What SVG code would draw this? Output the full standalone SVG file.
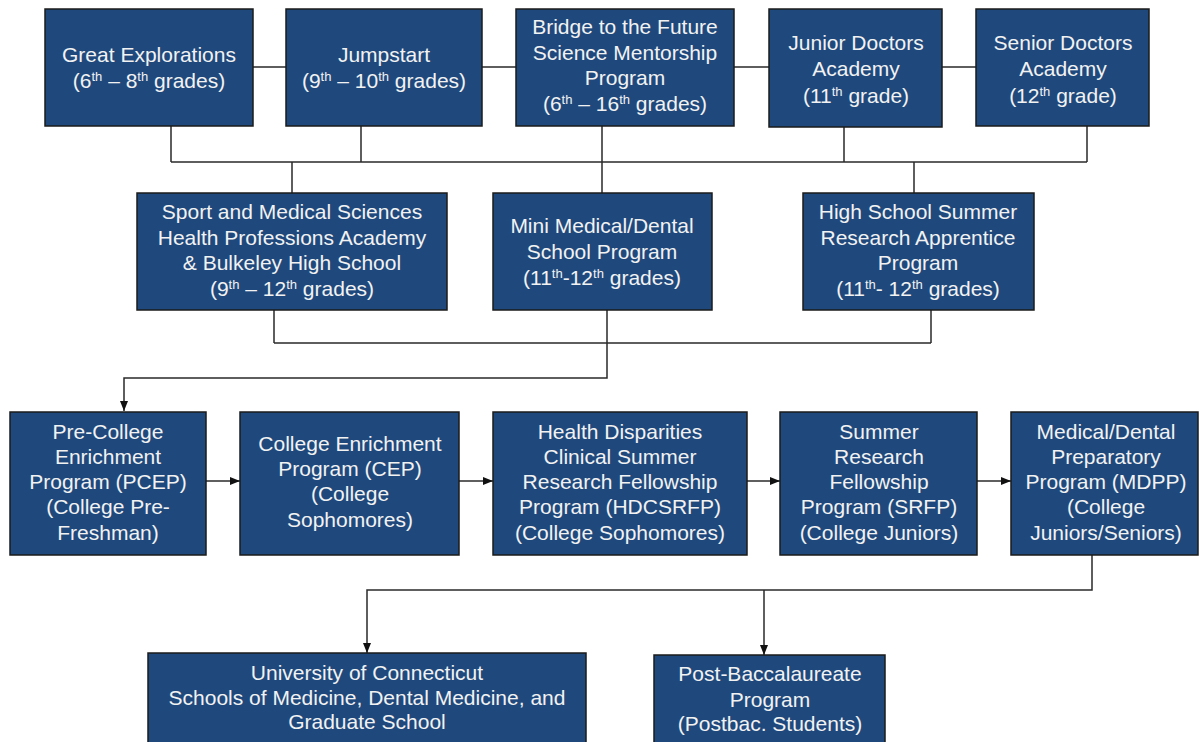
<svg xmlns="http://www.w3.org/2000/svg" width="1199" height="742" viewBox="0 0 1199 742">
<defs>
<style>
.box{fill:#1f497d;stroke:#1b1b1b;stroke-width:1.5}
.t{font-family:"Liberation Sans",Arial,sans-serif;font-size:21px;fill:#f2f2f2;text-anchor:middle}
.t4{font-size:21px}
.c{fill:none;stroke:#2a2a2a;stroke-width:1.5}
.s{font-size:13px}
</style>
<marker id="ah" viewBox="0 0 10 8" markerWidth="10" markerHeight="8" refX="10" refY="4" orient="auto" markerUnits="userSpaceOnUse">
<path d="M0,0 L10,4 L0,8 z" fill="#111"/>
</marker>
</defs>
<rect width="1199" height="742" fill="#fff"/>
<g id="connectors">
<path class="c" d="M253 67 H286 M482 67 H516 M734 67 H769 M942 67 H976"/>
<path class="c" d="M171 126 V162 M361 126 V162 M844 126 V162 M1087 126 V162 M171 162 H1087"/>
<path class="c" d="M292 162 V193 M602 126 V193 M914 162 V193"/>
<path class="c" d="M274 310 V343 M607 310 V343 M931 310 V343 M274 343 H931"/>
<path class="c" d="M607 343 V378 H124 V411" marker-end="url(#ah)"/>
<path class="c" d="M206 481 H240" marker-end="url(#ah)"/>
<path class="c" d="M459 481 H493" marker-end="url(#ah)"/>
<path class="c" d="M747 481 H780" marker-end="url(#ah)"/>
<path class="c" d="M977 481 H1011" marker-end="url(#ah)"/>
<path class="c" d="M1092 555 V590 H367 V653" marker-end="url(#ah)"/>
<path class="c" d="M764 590 V655" marker-end="url(#ah)"/>
</g>
<g id="great-explorations">
<rect class="box" x="45" y="9" width="208" height="117"/>
<text class="t" x="149" y="62">Great Explorations</text>
<text class="t" x="149" y="88">(6<tspan class="s" dy="-7">th</tspan><tspan dy="7"> – 8</tspan><tspan class="s" dy="-7">th</tspan><tspan dy="7"> grades)</tspan></text>
</g>
<g id="jumpstart">
<rect class="box" x="286" y="9" width="196" height="117"/>
<text class="t" x="384" y="62">Jumpstart</text>
<text class="t" x="384" y="88">(9<tspan class="s" dy="-7">th</tspan><tspan dy="7"> – 10</tspan><tspan class="s" dy="-7">th</tspan><tspan dy="7"> grades)</tspan></text>
</g>
<g id="bridge">
<rect class="box" x="516" y="9" width="218" height="117"/>
<text class="t" x="625" y="34">Bridge to the Future</text>
<text class="t" x="625" y="60">Science Mentorship</text>
<text class="t" x="625" y="85">Program</text>
<text class="t" x="625" y="111">(6<tspan class="s" dy="-7">th</tspan><tspan dy="7"> – 16</tspan><tspan class="s" dy="-7">th</tspan><tspan dy="7"> grades)</tspan></text>
</g>
<g id="junior-doctors">
<rect class="box" x="769" y="9" width="173" height="118"/>
<text class="t" x="856" y="50">Junior Doctors</text>
<text class="t" x="856" y="76">Academy</text>
<text class="t" x="856" y="103">(11<tspan class="s" dy="-7">th</tspan><tspan dy="7"> grade)</tspan></text>
</g>
<g id="senior-doctors">
<rect class="box" x="976" y="9" width="173" height="117"/>
<text class="t" x="1063" y="50">Senior Doctors</text>
<text class="t" x="1063" y="76">Academy</text>
<text class="t" x="1063" y="103">(12<tspan class="s" dy="-7">th</tspan><tspan dy="7"> grade)</tspan></text>
</g>
<g id="sport-medical">
<rect class="box" x="137" y="193" width="310" height="117"/>
<text class="t" x="292" y="219">Sport and Medical Sciences</text>
<text class="t" x="292" y="245">Health Professions Academy</text>
<text class="t" x="292" y="270">&amp; Bulkeley High School</text>
<text class="t" x="292" y="296">(9<tspan class="s" dy="-7">th</tspan><tspan dy="7"> – 12</tspan><tspan class="s" dy="-7">th</tspan><tspan dy="7"> grades)</tspan></text>
</g>
<g id="mini-medical">
<rect class="box" x="493" y="193" width="219" height="117"/>
<text class="t" x="602" y="233">Mini Medical/Dental</text>
<text class="t" x="602" y="259">School Program</text>
<text class="t" x="602" y="285">(11<tspan class="s" dy="-7">th</tspan><tspan dy="7">-12</tspan><tspan class="s" dy="-7">th</tspan><tspan dy="7"> grades)</tspan></text>
</g>
<g id="high-school-summer">
<rect class="box" x="803" y="193" width="231" height="117"/>
<text class="t" x="918" y="219">High School Summer</text>
<text class="t" x="918" y="245">Research Apprentice</text>
<text class="t" x="918" y="270">Program</text>
<text class="t" x="918" y="296">(11<tspan class="s" dy="-7">th</tspan><tspan dy="7">- 12</tspan><tspan class="s" dy="-7">th</tspan><tspan dy="7"> grades)</tspan></text>
</g>
<g id="pcep">
<rect class="box" x="10" y="412" width="196" height="143"/>
<text class="t" x="108" y="439">Pre-College</text>
<text class="t" x="108" y="464">Enrichment</text>
<text class="t" x="108" y="489">Program (PCEP)</text>
<text class="t" x="108" y="514">(College Pre-</text>
<text class="t" x="108" y="540">Freshman)</text>
</g>
<g id="cep">
<rect class="box" x="240" y="412" width="219" height="143"/>
<text class="t" x="350" y="451">College Enrichment</text>
<text class="t" x="350" y="476">Program (CEP)</text>
<text class="t" x="350" y="501">(College</text>
<text class="t" x="350" y="527">Sophomores)</text>
</g>
<g id="hdcsrfp">
<rect class="box" x="493" y="412" width="254" height="143"/>
<text class="t" x="620" y="439">Health Disparities</text>
<text class="t" x="620" y="464">Clinical Summer</text>
<text class="t" x="620" y="489">Research Fellowship</text>
<text class="t" x="620" y="514">Program (HDCSRFP)</text>
<text class="t" x="620" y="540">(College Sophomores)</text>
</g>
<g id="srfp">
<rect class="box" x="780" y="412" width="197" height="143"/>
<text class="t" x="879" y="439">Summer</text>
<text class="t" x="879" y="464">Research</text>
<text class="t" x="879" y="489">Fellowship</text>
<text class="t" x="879" y="514">Program (SRFP)</text>
<text class="t" x="879" y="540">(College Juniors)</text>
</g>
<g id="mdpp">
<rect class="box" x="1011" y="412" width="187" height="143"/>
<text class="t" x="1106" y="439">Medical/Dental</text>
<text class="t" x="1106" y="464">Preparatory</text>
<text class="t" x="1106" y="489">Program (MDPP)</text>
<text class="t" x="1106" y="514">(College</text>
<text class="t" x="1106" y="540">Juniors/Seniors)</text>
</g>
<g id="uconn">
<rect class="box" x="148" y="653" width="438" height="100"/>
<text class="t t4" x="367" y="680">University of Connecticut</text>
<text class="t t4" x="367" y="705">Schools of Medicine, Dental Medicine, and</text>
<text class="t t4" x="367" y="729">Graduate School</text>
</g>
<g id="post-bacc">
<rect class="box" x="654" y="655" width="231" height="100"/>
<text class="t t4" x="770" y="681">Post-Baccalaureate</text>
<text class="t t4" x="770" y="707">Program</text>
<text class="t t4" x="770" y="731">(Postbac. Students)</text>
</g>
</svg>
